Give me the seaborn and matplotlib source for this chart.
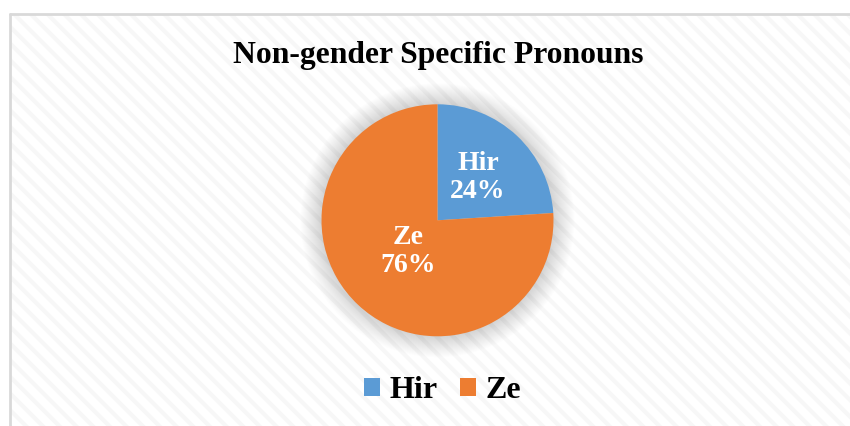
import numpy as np
import matplotlib
matplotlib.use("Agg")
import matplotlib.pyplot as plt
import seaborn as sns
from matplotlib.patches import Rectangle, Circle, Patch

sns.set_style("white")
plt.rcParams["font.family"] = ["Liberation Serif", "DejaVu Serif"]
plt.rcParams["text.color"] = "black"
plt.rcParams["hatch.linewidth"] = 3.0
plt.rcParams["hatch.color"] = "#f7f7f7"

# data
labels = ["Hir", "Ze"]
shares = [24, 76]
colors = ["#5B9BD5", "#ED7D31"]
title = "Non-gender Specific Pronouns"

W, H = 850, 426
fig = plt.figure(figsize=(W / 100, H / 100), dpi=100)
ax = fig.add_axes([0, 0, 1, 1])

# striped chart area + frame
ax.add_patch(Rectangle((10, -5), W, H - 14 + 5, facecolor="white",
                       edgecolor="#f7f7f7", hatch="\\\\", linewidth=0, zorder=0))
ax.plot([10, 10], [-5, H - 14], color="#d9d9d9", lw=2, zorder=1)
ax.plot([10, W + 5], [H - 14, H - 14], color="#d9d9d9", lw=2, zorder=1)

cx, cy, r = 437.5, H - 220.3, 116

# soft shadow around the pie
for k in range(1, 22):
    ax.add_patch(Circle((cx, cy), r + k, facecolor="black", edgecolor="none",
                        alpha=0.008, zorder=2))

wedges, _ = ax.pie(shares, colors=colors, startangle=90, counterclock=False,
                   center=(cx, cy), radius=r, frame=True,
                   wedgeprops=dict(linewidth=0, zorder=3))
ax.set_xlim(0, W)
ax.set_ylim(0, H)
ax.set_aspect("equal")
ax.axis("off")

label_r = [0.51, 0.37]
for w, lab, val, d in zip(wedges, labels, shares, label_r):
    th = np.deg2rad((w.theta1 + w.theta2) / 2)
    ax.text(cx + d * r * np.cos(th), cy + d * r * np.sin(th), f"{lab}\n{val}%",
            ha="center", va="center", multialignment="center", linespacing=1.15,
            fontsize=20, fontweight="bold", color="white", zorder=5)

ax.text(438, H - 63, title, ha="center", va="baseline", fontsize=22.8,
        fontweight="bold", color="black", zorder=5)

handles = [Patch(facecolor=c, edgecolor="none") for c in colors]
fig.legend(handles, labels, loc="center", bbox_to_anchor=(443 / W, 35 / H),
           ncol=2, frameon=False, prop=dict(size=23, weight="bold"),
           labelcolor="black",
           handlelength=0.5, handleheight=0.5, handletextpad=0.3,
           columnspacing=0.7)

fig.savefig("out.png", dpi=100)
